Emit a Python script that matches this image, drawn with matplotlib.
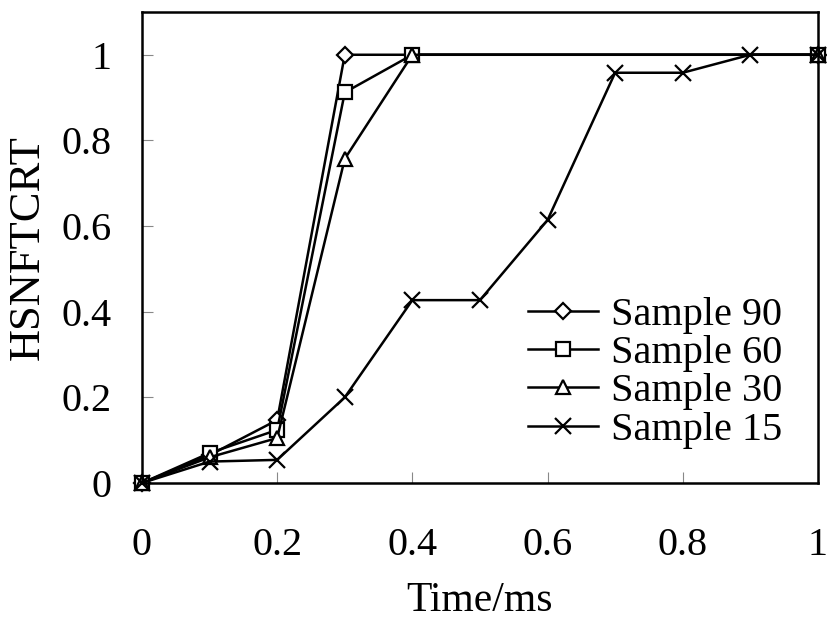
import matplotlib

matplotlib.use('Agg')
import matplotlib.pyplot as plt
from matplotlib.ticker import FormatStrFormatter

plt.rcParams['font.family'] = ['Liberation Serif', 'DejaVu Serif']

# data
x_90 = [0, 0.1, 0.2, 0.3, 1.0]
y_90 = [0, 0.065, 0.147, 1.0, 1.0]

x_60 = [0, 0.1, 0.2, 0.3, 0.4, 1.0]
y_60 = [0, 0.07, 0.124, 0.912, 1.0, 1.0]

x_30 = [0, 0.1, 0.2, 0.3, 0.4, 1.0]
y_30 = [0, 0.06, 0.105, 0.757, 1.0, 1.0]

x_15 = [0, 0.1, 0.2, 0.3, 0.4, 0.5, 0.6, 0.7, 0.8, 0.9, 1.0]
y_15 = [0, 0.05, 0.054, 0.20, 0.427, 0.427, 0.614, 0.958, 0.958, 1.0, 1.0]

labels = ['Sample 90', 'Sample 60', 'Sample 30', 'Sample 15']
markers = ['D', 's', '^', 'x']
msizes = [8, 9.5, 10.5, 11]

FS = 29

fig = plt.figure(figsize=(8.27, 6.28), dpi=100)
ax = fig.add_axes([0.1717, 0.2309, 0.8173, 0.7501])

series = [(x_90, y_90), (x_60, y_60), (x_30, y_30), (x_15, y_15)]
for (xs, ys), lab, m, ms in zip(series, labels, markers, msizes):
    ax.plot(xs, ys, color='black', linewidth=1.8, marker=m, markersize=ms,
            markerfacecolor='white', markeredgecolor='black', markeredgewidth=1.6,
            label=lab, clip_on=False)

ax.set_xlim(0, 1)
ax.set_ylim(0, 1.1)
ax.set_xticks([0, 0.2, 0.4, 0.6, 0.8, 1.0])
ax.set_yticks([0, 0.2, 0.4, 0.6, 0.8, 1.0])
ax.xaxis.set_major_formatter(FormatStrFormatter('%g'))
ax.yaxis.set_major_formatter(FormatStrFormatter('%g'))
ax.tick_params(axis='both', direction='in', length=8, width=0.8, labelsize=FS,
               color='#888888')
ax.tick_params(axis='x', pad=32)
ax.tick_params(axis='y', pad=22)

for sp in ax.spines.values():
    sp.set_linewidth(1.8)

ax.set_xlabel('Time/ms', fontsize=30, labelpad=12)
ax.set_ylabel('HSNFTCRT', fontsize=32, labelpad=10)

ax.legend(loc='upper left', bbox_to_anchor=(0.571, 0.396), frameon=False,
          fontsize=FS, borderpad=0, borderaxespad=0, labelspacing=0.03,
          handlelength=1.75, handletextpad=0.3)

fig.savefig('out.png', dpi=100)
